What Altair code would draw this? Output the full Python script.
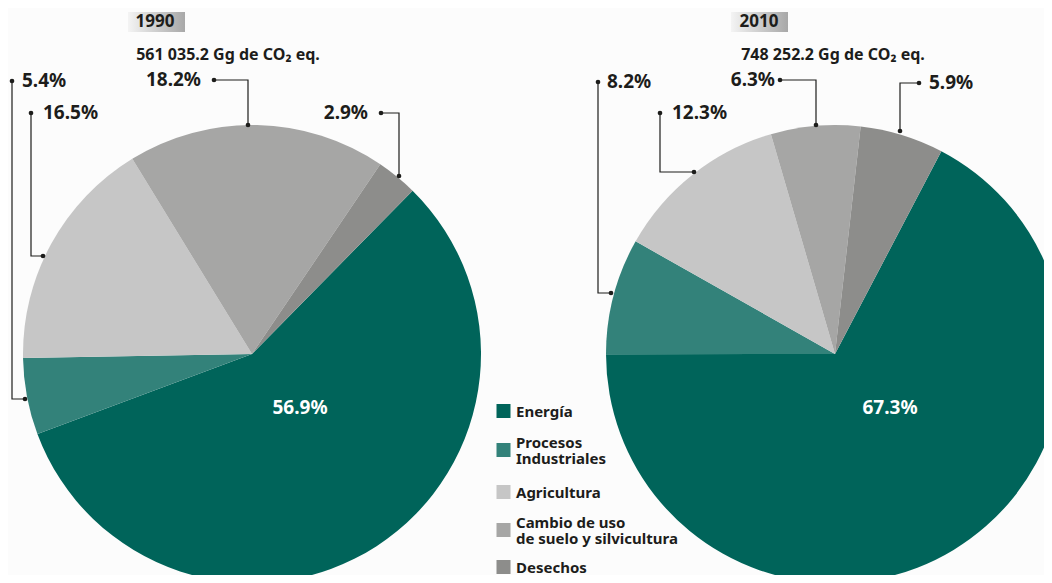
import math
import altair as alt
import pandas as pd

# ---------------- data ----------------
categories = ["Energía", "Procesos Industriales", "Agricultura",
              "Cambio de uso de suelo y silvicultura", "Desechos"]
legend_lines = [["Energía"], ["Procesos", "Industriales"], ["Agricultura"],
                ["Cambio de uso", "de suelo y silvicultura"], ["Desechos"]]
years = ["1990", "2010"]
totals = ["561 035.2", "748 252.2"]
values_1990 = [56.9, 5.4, 16.5, 18.2, 2.9]
values_2010 = [67.3, 8.2, 12.3, 6.3, 5.9]

# ---------------- styles / layout ----------------
colors = ["#00645A", "#33827A", "#C6C6C6", "#A6A6A5", "#8D8D8B"]
W, H = 1036, 567
OFF = 8  # page margin
R = 229
centers = [(252 - OFF, 354 - OFF), (835 - OFF, 354 - OFF)]
starts = [0.777, 0.483]  # radians, start of "Energía" slice
FONT = "Noto Sans"
TXT = "#1d1d1b"

# leader label layout (image px): (series, category index, text anchor x, text align, points)
leaders = [
    (0, 1, 22, "left", [(12, 81), (12, 399), (25, 399)]),
    (0, 2, 43, "left", [(31, 113), (31, 256), (43, 256)]),
    (0, 3, 201, "right", [(214, 80), (248, 80), (248, 125)]),
    (0, 4, 368, "right", [(381, 113), (399, 113), (399, 176)]),
    (1, 1, 607, "left", [(598, 82), (598, 293), (611, 293)]),
    (1, 2, 672, "left", [(660, 113), (660, 172), (694, 172)]),
    (1, 3, 775, "right", [(780, 80), (816, 80), (816, 125)]),
    (1, 4, 929, "left", [(919, 83), (900, 83), (900, 131)]),
]
series_vals = [values_1990, values_2010]

layers = []

# soft shadow behind pies
sh_rows = []
for (cx, cy) in centers:
    for k in range(1, 14):
        sh_rows.append({"x": cx + 2, "y": cy + 2, "r": R + k})
shadow = alt.Chart(pd.DataFrame(sh_rows)).mark_arc(
    theta=0, theta2=2 * math.pi, color="#777777", opacity=0.024
).encode(
    x=alt.X("x:Q", scale=None, axis=None),
    y=alt.Y("y:Q", scale=None, axis=None),
    radius=alt.Radius("r:Q", scale=None),
)
layers.append(shadow)

color_scale = alt.Scale(domain=categories, range=colors)

for s, vals in enumerate(series_vals):
    df = pd.DataFrame({"cat": categories, "v": vals, "i": list(range(len(vals)))})
    cx, cy = centers[s]
    p = alt.Chart(df).mark_arc(radius=R).encode(
        theta=alt.Theta("v:Q", stack=True,
                        scale=alt.Scale(range=[starts[s], starts[s] + 2 * math.pi])),
        order=alt.Order("i:Q"),
        color=alt.Color("cat:N", scale=color_scale, legend=None),
        x=alt.value(cx),
        y=alt.value(cy),
    )
    layers.append(p)

# center labels (Energía)
center_df = pd.DataFrame({
    "x": [300 - OFF, 890 - OFF],
    "y": [408 - OFF, 408 - OFF],
    "t": [f"{series_vals[0][0]}%", f"{series_vals[1][0]}%"],
})
layers.append(alt.Chart(center_df).mark_text(
    font=FONT, fontSize=19, fontWeight="bold", color="white", baseline="middle", align="center"
).encode(x=alt.X("x:Q", scale=None), y=alt.Y("y:Q", scale=None), text="t:N"))

# year boxes
box_df = pd.DataFrame({
    "x": [128 - OFF, 731 - OFF], "x2": [185 - OFF, 788 - OFF],
    "y": [12 - OFF, 12 - OFF], "y2": [32 - OFF, 32 - OFF],
    "tx": [155 - OFF, 759 - OFF], "ty": [22 - OFF, 22 - OFF],
    "year": years,
})
grad = alt.Gradient(gradient="linear",
                    stops=[alt.GradientStop(color="#f4f4f4", offset=0),
                           alt.GradientStop(color="#a8a8a8", offset=1)],
                    x1=0, x2=1, y1=0, y2=0)
layers.append(alt.Chart(box_df).mark_rect(fill=grad).encode(
    x=alt.X("x:Q", scale=None), x2="x2:Q", y=alt.Y("y:Q", scale=None), y2="y2:Q"))
layers.append(alt.Chart(box_df).mark_text(
    font=FONT, fontSize=17, fontWeight="bold", color=TXT, baseline="middle", align="center"
).encode(x=alt.X("tx:Q", scale=None), y=alt.Y("ty:Q", scale=None), text="year:N"))

# totals
tot_df = pd.DataFrame({
    "x": [228 - OFF, 833 - OFF], "y": [55 - OFF, 55 - OFF],
    "t": [f"{t} Gg de CO\u2082 eq." for t in totals],
})
layers.append(alt.Chart(tot_df).mark_text(
    font=FONT, fontSize=16, fontWeight="bold", color=TXT, baseline="middle", align="center"
).encode(x=alt.X("x:Q", scale=None), y=alt.Y("y:Q", scale=None), text="t:N"))

# leader lines, dots and labels
line_rows, dot_rows, lab_rows = [], [], []
for li, (s, ci, tx, al, pts) in enumerate(leaders):
    for pi, (px, py) in enumerate(pts):
        line_rows.append({"id": li, "o": pi, "x": px - OFF, "y": py - OFF})
    for (px, py) in (pts[0], pts[-1]):
        dot_rows.append({"x": px - OFF, "y": py - OFF})
    lab_rows.append({"x": tx - OFF, "y": pts[0][1] - OFF,
                     "t": f"{series_vals[s][ci]}%", "al": al})
layers.append(alt.Chart(pd.DataFrame(line_rows)).mark_line(
    color="#1d1d1b", strokeWidth=1.2
).encode(x=alt.X("x:Q", scale=None), y=alt.Y("y:Q", scale=None),
         detail="id:N", order="o:Q"))
layers.append(alt.Chart(pd.DataFrame(dot_rows)).mark_circle(
    color="#1d1d1b", size=22, opacity=1
).encode(x=alt.X("x:Q", scale=None), y=alt.Y("y:Q", scale=None)))
lab_df = pd.DataFrame(lab_rows)
for al in ["left", "right"]:
    layers.append(alt.Chart(lab_df[lab_df.al == al]).mark_text(
        font=FONT, fontSize=19, fontWeight="bold", color=TXT, baseline="middle", align=al
    ).encode(x=alt.X("x:Q", scale=None), y=alt.Y("y:Q", scale=None), text="t:N"))

# manual legend
leg_sq_y = [411, 450, 492, 530, 567]      # square centres (image px)
leg_first_line_y = [411, 442, 492, 522, 567]  # centre of first text line (image px)
sq_rows, lt_rows = [], []
for i, cat in enumerate(categories):
    sq_rows.append({"cat": cat, "x": 503.5 - OFF, "y": leg_sq_y[i] - OFF})
    lt_rows.append({"x": 516 - OFF,
                    "y": leg_first_line_y[i] - OFF - 6.5,
                    "t": "\n".join(legend_lines[i])})
layers.append(alt.Chart(pd.DataFrame(sq_rows)).mark_square(size=196, opacity=1).encode(
    x=alt.X("x:Q", scale=None), y=alt.Y("y:Q", scale=None),
    color=alt.Color("cat:N", scale=color_scale, legend=None)))
layers.append(alt.Chart(pd.DataFrame(lt_rows)).mark_text(
    font=FONT, fontSize=15, fontWeight="bold", color=TXT, baseline="top", align="left",
    lineBreak="\n", lineHeight=16
).encode(x=alt.X("x:Q", scale=None), y=alt.Y("y:Q", scale=None), text="t:N"))

chart = alt.layer(*layers).resolve_scale(theta="independent").properties(
    width=W, height=H, padding=0, autosize=alt.AutoSizeParams(type="none"),
    background="white",
).configure_view(stroke=None)

chart.save("out.html", embed_options={"renderer": "svg", "actions": False})
